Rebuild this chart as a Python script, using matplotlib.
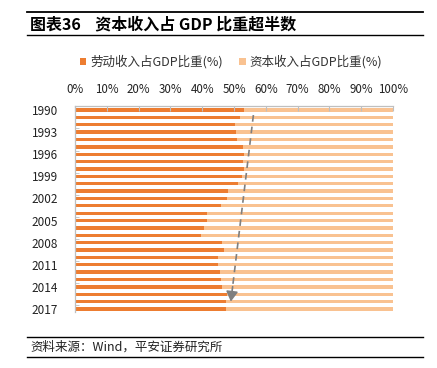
import matplotlib
matplotlib.use("Agg")
import matplotlib.pyplot as plt
from matplotlib.lines import Line2D
import numpy as np

plt.rcParams['font.family'] = ['Noto Sans CJK SC', 'DejaVu Sans']

years = list(range(1990, 2018))
labor_share = [53.1, 52.0, 50.2, 50.6, 50.9, 52.8, 53.2, 52.8, 53.2, 52.5,
               51.3, 48.2, 47.8, 45.9, 41.5, 41.5, 40.6, 39.6, 46.3, 46.9,
               44.9, 44.9, 45.6, 45.9, 46.2, 47.9, 47.5, 47.5]
capital_share = [100 - v for v in labor_share]
tick_years = list(range(1990, 2018, 3))
x_ticks = list(range(0, 101, 10))
labor_name = "劳动收入占GDP比重(%)"
capital_name = "资本收入占GDP比重(%)"
title = "图表36    资本收入占 GDP 比重超半数"
source = "资料来源：Wind，平安证券研究所"

c_labor = "#ED7D31"
c_cap = "#F9C291"

W, H = 437, 368
fig = plt.figure(figsize=(W / 100, H / 100), dpi=100)

def fx(px):
    return px / W

def fy(py):
    return 1 - py / H

ax = fig.add_axes([fx(75), fy(311.7), fx(393) - fx(75), fy(106) - fy(311.7)])
ypos = np.arange(len(years))
bh = 0.45
ax.barh(ypos, labor_share, height=bh, color=c_labor, label=labor_name)
ax.barh(ypos, capital_share, left=labor_share, height=bh, color=c_cap, label=capital_name)

ax.set_xlim(0, 100)
ax.set_ylim(27.37, -0.55)
ax.xaxis.tick_top()
ax.set_xticks(x_ticks)
ax.set_xticklabels([f"{v}%" for v in x_ticks], fontsize=8.3, color="#222222")
ax.tick_params(axis='x', direction='in', length=3.5, color="#BFBFBF", pad=7)
ax.set_yticks([years.index(y) for y in tick_years])
ax.set_yticklabels([str(y) for y in tick_years], fontsize=8.5, color="#222222")
ax.tick_params(axis='y', length=0, pad=12)
ax.set_yticks(np.arange(2.5, 27, 3), minor=True)
ax.tick_params(axis='y', which='minor', direction='in', length=3, color="#BFBFBF")
for s in ['right', 'bottom']:
    ax.spines[s].set_visible(False)
for s in ['top', 'left']:
    ax.spines[s].set_color("#BFBFBF")
    ax.spines[s].set_linewidth(0.9)

# trend arrow
x0, y0 = 56.1, 0.68
x1, y1 = 49.0, 26.0
t = 0.93
ax.plot([x0, x0 + (x1 - x0) * t], [y0, y0 + (y1 - y0) * t], color="#7F7F7F",
        lw=1.2, ls=(0, (4, 3)), zorder=5)
ax.annotate("", xy=(x1, y1), xytext=(x0 + (x1 - x0) * 0.92, y0 + (y1 - y0) * 0.92),
            arrowprops=dict(arrowstyle='-|>,head_length=0.6,head_width=0.35',
                            color="#7F7F7F", lw=1.2, shrinkA=0, shrinkB=0), zorder=6)

# legend
leg = fig.legend(loc='center', bbox_to_anchor=(fx(231), fy(62)), ncol=2, frameon=False,
                 fontsize=9, handlelength=0.55, handleheight=0.55, handletextpad=0.3,
                 columnspacing=1.3)
for txt in leg.get_texts():
    txt.set_color("#333333")

# title and rules
fig.add_artist(Line2D([fx(27), fx(423)], [fy(12), fy(12)], color="black", lw=1.3))
fig.add_artist(Line2D([fx(27), fx(423)], [fy(35), fy(35)], color="black", lw=1.0))
fig.text(fx(30), fy(24), title, fontsize=11.5, fontweight='bold', va='center', ha='left')

fig.add_artist(Line2D([fx(27), fx(423)], [fy(337), fy(337)], color="black", lw=1.0))
fig.add_artist(Line2D([fx(27), fx(423)], [fy(357), fy(357)], color="black", lw=1.0))
fig.text(fx(30), fy(347), source, fontsize=9, style='italic', va='center', ha='left',
         color="#222222")

fig.savefig("out.png", dpi=100)
